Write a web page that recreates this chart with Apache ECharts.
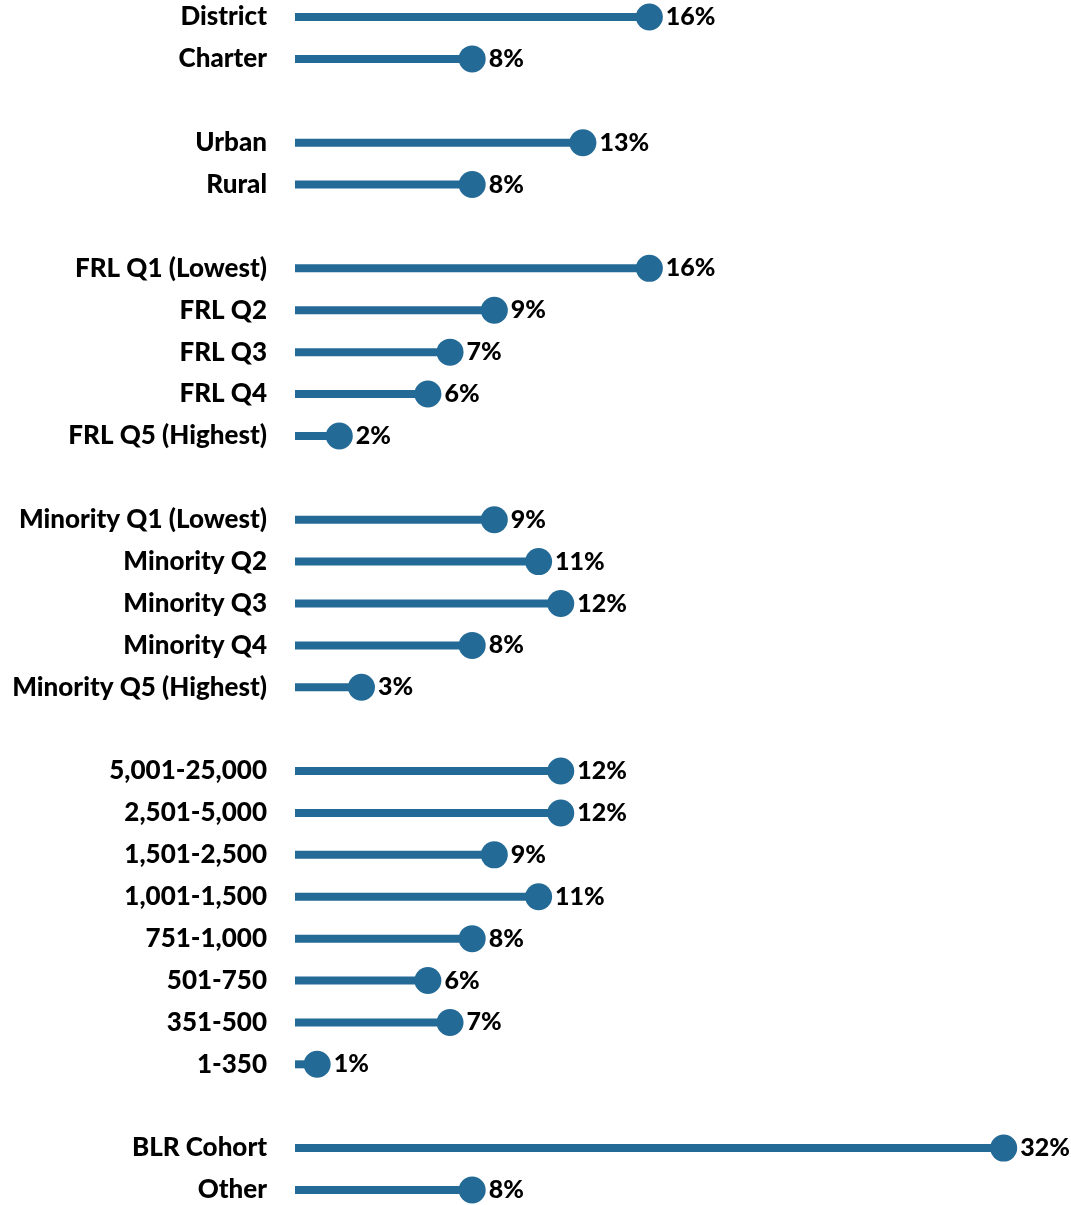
<!DOCTYPE html>
<html>
<head>
<meta charset="utf-8">
<script src="https://cdn.jsdelivr.net/npm/echarts@6/dist/echarts.min.js"></script>
<style>
html, body { margin: 0; padding: 0; background: #fff; }
#chart { width: 1071px; height: 1205px; }
</style>
</head>
<body>
<div id="chart"></div>
<script>
// '' entries are the blank spacer rows between groups
const categories = [
  'District', 'Charter', '',
  'Urban', 'Rural', '',
  'FRL Q1 (Lowest)', 'FRL Q2', 'FRL Q3', 'FRL Q4', 'FRL Q5 (Highest)', '',
  'Minority Q1 (Lowest)', 'Minority Q2', 'Minority Q3', 'Minority Q4', 'Minority Q5 (Highest)', '',
  '5,001-25,000', '2,501-5,000', '1,501-2,500', '1,001-1,500', '751-1,000', '501-750', '351-500', '1-350', '',
  'BLR Cohort', 'Other'
]
const values = [
  16, 8, null,
  13, 8, null,
  16, 9, 7, 6, 2, null,
  9, 11, 12, 8, 3, null,
  12, 12, 9, 11, 8, 6, 7, 1, null,
  32, 8
]

const color = '#236a97'
const font = 'Lato, "Open Sans", sans-serif'

// give blank rows distinct names so the axis keeps them apart
const cats = categories.map((c, i) => c === '' ? ' '.repeat(i + 1) : c)
const dots = values.map((v, i) => v === null ? null : [v, i])

const chart = echarts.init(document.getElementById('chart'))
chart.setOption({
  animation: false,
  grid: { left: 295, right: 23, top: 17, bottom: 15 },
  xAxis: {
    type: 'value', min: 0, max: 34, show: false
  },
  yAxis: {
    type: 'category',
    data: cats,
    inverse: true,
    boundaryGap: false,
    axisLine: { show: false },
    axisTick: { show: false },
    splitLine: { show: false },
    axisLabel: {
      margin: 28,
      color: '#000',
      fontSize: 26,
      fontWeight: 900,
      fontFamily: font
    }
  },
  series: [
    {
      type: 'bar',
      data: values,
      barWidth: 8,
      itemStyle: { color: color },
      silent: true
    },
    {
      type: 'scatter',
      data: dots,
      symbolSize: 27,
      itemStyle: { color: color, opacity: 1 },
      label: {
        show: true,
        position: 'right',
        distance: 3,
        formatter: p => p.value[0] + '%',
        color: '#000',
        fontSize: 25,
        fontWeight: 900,
        fontFamily: font
      },
      z: 3
    }
  ]
})
</script>
</body>
</html>
